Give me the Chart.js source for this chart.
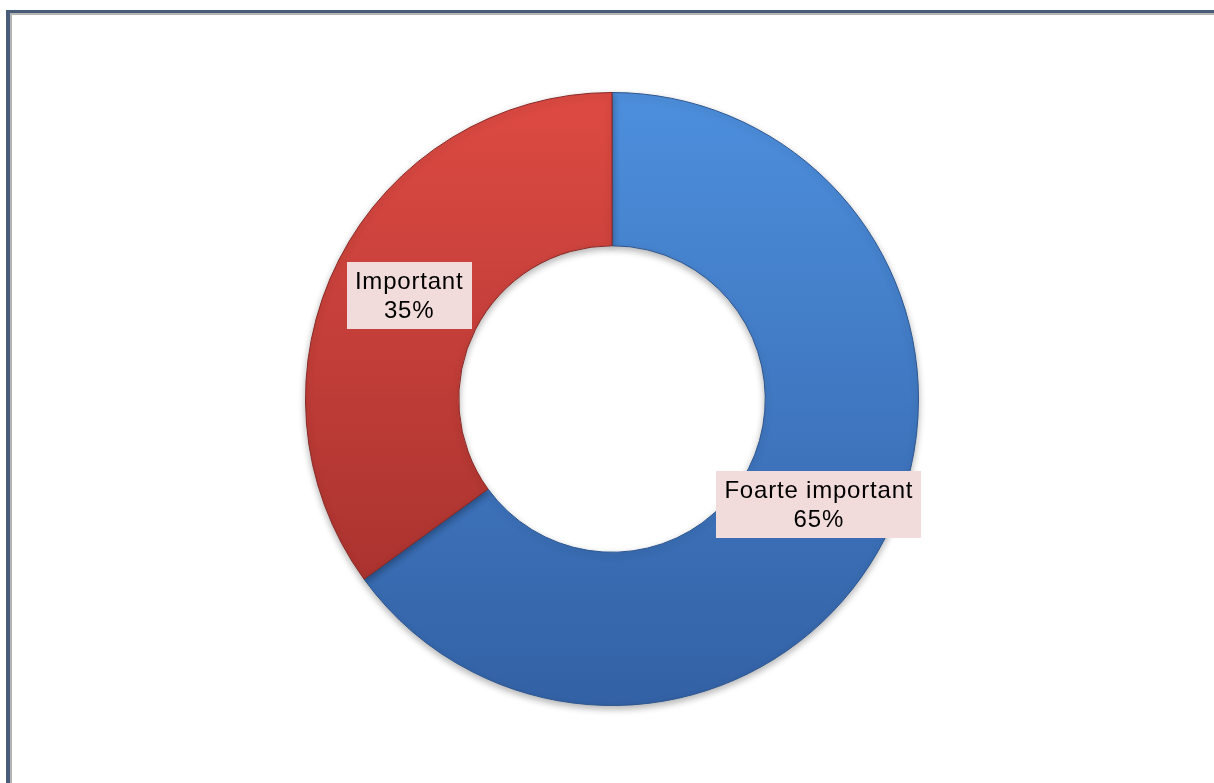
<!DOCTYPE html>
<html>
<head>
<meta charset="utf-8">
<script src="https://cdn.jsdelivr.net/npm/chart.js@4"></script>
<style>
  html, body { margin: 0; padding: 0; background: #fff; overflow: hidden; }
  #frame {
    position: absolute; left: 6px; top: 10px; width: 1300px; height: 900px;
    border-top: 3px solid #485c7a; border-left: 4px solid #485c7a;
    box-shadow: inset 2px 2px 0 #b4b4b4;
  }
  #wrap { position: absolute; left: 0; top: 0; width: 1214px; height: 783px; }
</style>
</head>
<body>
<div id="frame"></div>
<div id="wrap"><canvas id="donut"></canvas></div>
<script>
  // values
  const categories = ['Foarte important', 'Important'];
  const shares = [65, 35];
  const topColors = ['#4d8fdd', '#dd4a43'];
  const bottomColors = ['#3361a5', '#9e2d2a'];
  const edgeColors = ['#2c5690', '#8a2824'];

  function sliceFill(context) {
    const chart = context.chart;
    const area = chart.chartArea;
    const i = context.dataIndex;
    if (!area) return topColors[i];
    const g = chart.ctx.createLinearGradient(0, area.top, 0, area.bottom);
    g.addColorStop(0, topColors[i]);
    g.addColorStop(1, bottomColors[i]);
    return g;
  }

  // soft shadow under the ring, like the Excel original
  const ringShadow = {
    id: 'ringShadow',
    beforeDatasetsDraw(chart) {
      const ctx = chart.ctx;
      ctx.save();
      ctx.shadowColor = 'rgba(0,0,0,0.3)';
      ctx.shadowBlur = 7;
      ctx.shadowOffsetY = 3;
    },
    afterDatasetsDraw(chart) {
      chart.ctx.restore();
    }
  };

  // boxed data labels in the middle of each slice
  const boxLabels = {
    id: 'boxLabels',
    afterDatasetsDraw(chart) {
      const ctx = chart.ctx;
      const meta = chart.getDatasetMeta(0);
      ctx.save();
      ctx.font = '24px "Liberation Sans", Arial, sans-serif';
      ctx.letterSpacing = '0.8px';
      ctx.textAlign = 'center';
      ctx.textBaseline = 'middle';
      meta.data.forEach((arc, i) => {
        const pos = arc.tooltipPosition();
        const lines = [categories[i], shares[i] + '%'];
        const w = Math.max(...lines.map(t => ctx.measureText(t).width)) + 16;
        const h = 67;
        const x = pos.x + 2;
        const y = pos.y + 1;
        ctx.fillStyle = '#f2dcdb';
        ctx.fillRect(Math.round(x - w / 2), Math.round(y - h / 2), Math.round(w), h);
        ctx.fillStyle = '#000';
        ctx.fillText(lines[0], x, y - 13);
        ctx.fillText(lines[1], x, y + 16);
      });
      ctx.restore();
    }
  };

  document.addEventListener('DOMContentLoaded', () => {
    const ctx = document.getElementById('donut').getContext('2d');
    new Chart(ctx, {
      type: 'doughnut',
      data: {
        labels: categories,
        datasets: [{
          data: shares,
          backgroundColor: sliceFill,
          borderColor: edgeColors,
          borderWidth: 1
        }]
      },
      options: {
        responsive: true,
        maintainAspectRatio: false,
        animation: false,
        cutout: '50%',
        layout: { padding: { left: 10, right: 0, top: 92, bottom: 77 } },
        plugins: {
          legend: { display: false },
          tooltip: { enabled: false }
        }
      },
      plugins: [ringShadow, boxLabels]
    });
  });
</script>
</body>
</html>
